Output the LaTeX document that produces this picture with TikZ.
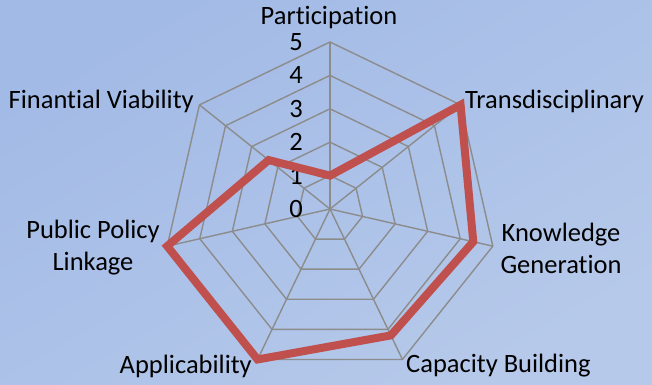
\documentclass[tikz,border=0pt]{standalone}
\usepackage{fontspec}
\setmainfont{Carlito}[Ligatures=NoCommon]
\usetikzlibrary{calc}
\definecolor{bgA}{HTML}{A2BAE6}
\definecolor{bgB}{HTML}{B6C9EA}
\definecolor{gridc}{HTML}{8C8C8C}
\definecolor{redc}{HTML}{C0504D}
\tikzset{
  gridline/.style={draw=gridc, line width=1.4pt},
  series/.style={draw=redc, line width=8pt, line join=miter, miter limit=6},
  lab/.style={font=\fontsize{26.5}{32}\selectfont, inner sep=0pt, align=center},
  tick/.style={font=\fontsize{26.5}{32}\selectfont, inner sep=0pt, anchor=east}
}
\begin{document}
\begin{tikzpicture}[x=1pt,y=1pt]
\useasboundingbox (0,0) rectangle (652,-384);
\shade[shading=axis, top color=bgA, bottom color=bgB, shading angle=30] (0,0) rectangle (652,-384);
\coordinate (c) at (330,-209);
\def\R{167}
% grid rings
\foreach \k in {1,...,5}{
  \draw[gridline] ($(c)+(90:\k*\R/5)$)
    \foreach \i in {1,...,6}{ -- ($(c)+({90-\i*360/7}:\k*\R/5)$) } -- cycle;
}
% spokes
\foreach \i in {0,...,6}{
  \draw[gridline] (c) -- ($(c)+({90-\i*360/7}:\R)$);
}
% tick labels
\foreach \k in {0,...,5}{
  \node[tick] (t\k) at (303,{-209+\k*\R/5}) {\k};
}
% series
\coordinate (v0) at ($(c)+(90:{1*\R/5})$);
\coordinate (v1) at ($(c)+({90-1*360/7}:{5*\R/5})$);
\coordinate (v2) at ($(c)+({90-2*360/7}:{4.4*\R/5})$);
\coordinate (v3) at ($(c)+({90-3*360/7}:{4.2*\R/5})$);
\coordinate (v4) at ($(c)+({90-4*360/7}:{5*\R/5})$);
\coordinate (v5) at ($(c)+({90-5*360/7}:{5*\R/5})$);
\coordinate (v6) at ($(c)+({90-6*360/7}:{2.35*\R/5})$);
\draw[series] (v0) -- (v1) -- (v2) -- (v3) -- (v4) -- (v5) -- (v6) -- cycle;
% axis labels
\node[lab] (l0) at (329,-18) {Participation};
\node[lab, anchor=west] (l1) at (465,-101) {Transdisciplinary};
\node[lab] (l2) at (561,-248) {Knowledge\\Generation};
\node[lab, anchor=west] (l3) at (406,-366) {Capacity Building};
\node[lab, anchor=east] (l4) at (252,-366) {Applicability};
\node[lab] (l5) at (93,-248) {Public Policy\\Linkage};
\node[lab, anchor=east] (l6) at (194,-101) {Finantial Viability};
\end{tikzpicture}
\end{document}
